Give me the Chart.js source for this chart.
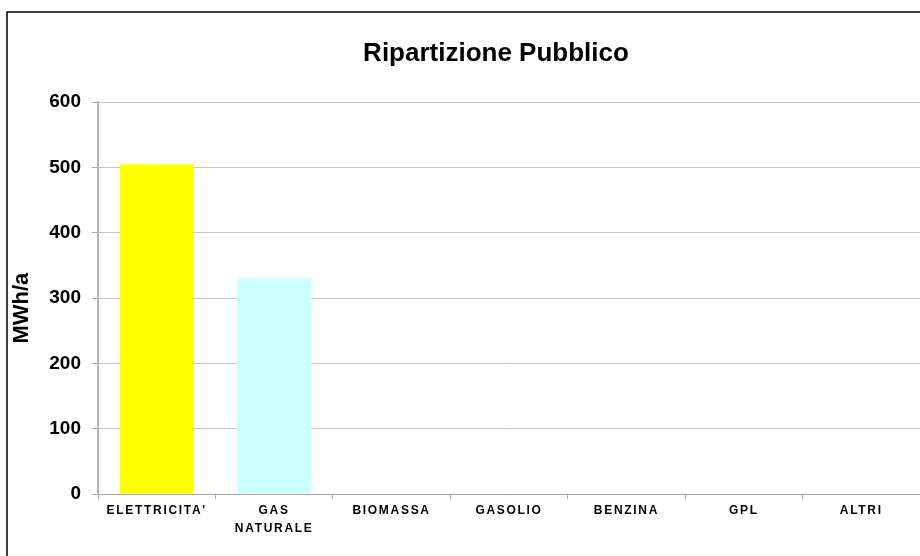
<!DOCTYPE html>
<html>
<head>
<meta charset="utf-8">
<script src="https://cdn.jsdelivr.net/npm/chart.js@4"></script>
<style>
  html, body { margin: 0; padding: 0; background: #fff; }
  #wrap { width: 920px; height: 556px; }
</style>
</head>
<body>
<div id="wrap"><canvas id="myChart" width="920" height="556"></canvas></div>
<script>
const categories = ["ELETTRICITA'", ['GAS', 'NATURALE'], 'BIOMASSA', 'GASOLIO', 'BENZINA', 'GPL', 'ALTRI']
const values = [505, 330, 0, 0, 0, 0, 0]
const barColors = ['#ffff00', '#ccffff', '#9999ff', '#993366', '#ffffcc', '#ccffff', '#660066']
const yTicks = [0, 100, 200, 300, 400, 500, 600]

const ctx = document.getElementById('myChart')

// the original frame is wider than the picture: only its top and left edges show,
// and the title is centred on the whole frame, not on the visible part
const frame = {
  id: 'frame',
  afterLayout(chart) {
    chart.titleBlock.left = 72

    const sx = chart.scales.x
    if (!sx._spaced) {
      const orig = sx.drawLabels
      sx.drawLabels = function (area) {
        chart.ctx.save()
        chart.ctx.letterSpacing = '1.7px'
        orig.call(this, area)
        chart.ctx.restore()
      }
      sx._spaced = true
    }
    const sy = chart.scales.y
    if (!sy._moved) {
      const origT = sy.drawTitle
      sy.drawTitle = function () {
        chart.ctx.save()
        chart.ctx.translate(0, 10)
        origT.call(this)
        chart.ctx.restore()
      }
      sy._moved = true
    }
  },
  afterDraw(chart) {
    const c = chart.ctx
    c.save()
    c.strokeStyle = '#000'
    c.lineWidth = 1.5
    c.beginPath()
    c.moveTo(7, chart.height)
    c.lineTo(7, 12)
    c.lineTo(chart.width, 12)
    c.stroke()
    c.restore()
  }
}

const myChart = new Chart(ctx, {
  type: 'bar',
  data: {
    labels: categories,
    datasets: [{
      data: values,
      backgroundColor: barColors,
      borderWidth: 0,
      categoryPercentage: 1,
      barPercentage: 0.63
    }]
  },
  options: {
    responsive: false,
    animation: false,
    layout: { padding: 0 },
    plugins: {
      legend: { display: false },
      tooltip: { enabled: false },
      title: {
        display: true,
        text: 'Ripartizione Pubblico',
        color: '#000',
        font: { family: 'Liberation Sans', size: 26, weight: 'bold' },
        padding: { top: 38, bottom: 33 }
      }
    },
    scales: {
      x: {
        grid: { display: true, drawOnChartArea: false, offset: true, tickLength: 5, color: '#a8a8a8' },
        border: { color: '#a8a8a8', width: 1 },
        ticks: {
          color: '#000',
          maxRotation: 0,
          autoSkip: false,
          padding: 3,
          font: { family: 'Liberation Sans', size: 12, weight: 'bold', lineHeight: 1.5 }
        },
        afterFit: s => { s.height = 62 }
      },
      y: {
        min: 0,
        max: 600,
        afterBuildTicks: s => { s.ticks = yTicks.map(v => ({ value: v })) },
        grid: { color: '#c8c8c8', tickLength: 6, tickColor: '#a8a8a8' },
        border: { color: '#b4b4b4', width: 2 },
        ticks: {
          color: '#000',
          padding: 11,
          font: { family: 'Liberation Sans', size: 19, weight: 'bold' }
        },
        title: {
          display: true,
          text: 'MWh/a',
          color: '#000',
          padding: { top: 9, bottom: 0 },
          font: { family: 'Liberation Sans', size: 22, weight: 'bold' }
        },
        afterFit: s => { s.width = 98 }
      }
    }
  },
  plugins: [frame]
})
</script>
</body>
</html>
